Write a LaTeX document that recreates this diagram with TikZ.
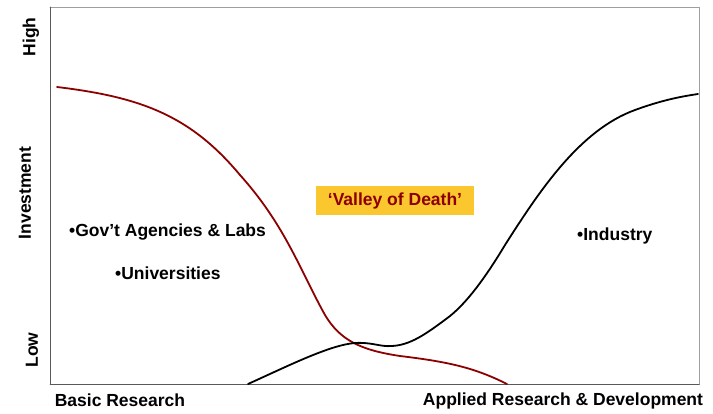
\documentclass[tikz,border=0pt]{standalone}
\usepackage{fontspec}
\setmainfont{Liberation Sans}
\definecolor{xdrqq}{rgb}{0.55,0.,0.}
\definecolor{ffcczz}{rgb}{0.98,0.78,0.18}
\definecolor{frdark}{rgb}{0.35,0.35,0.35}
\definecolor{frlight}{rgb}{0.62,0.62,0.62}
\tikzset{
  lbl/.style={font=\fontsize{17.5}{20}\selectfont\bfseries, inner sep=0pt},
  vlbl/.style={lbl, rotate=90}
}
\begin{document}
\begin{tikzpicture}[line cap=round,line join=round,x=1pt,y=-1pt]
	\useasboundingbox (0,0) rectangle (713,413);
	% frame
	\draw[frlight, line width=1pt] (50,384) -- (699,384) -- (699,7) -- (50,7);
	\draw[frdark, line width=1pt] (699,384) -- (50,384) -- (50,7);
	% curves
	\draw[xdrqq, line width=1.8pt] (57,87) .. controls (140,97) and (190,115) .. (240,175)
		.. controls (285,225) and (300,270) .. (325,315)
		.. controls (340,340) and (360,350) .. (400,356)
		.. controls (450,362) and (475,368) .. (507,384);
	\draw[black, line width=1.8pt] (248,384) .. controls (290,365) and (330,345) .. (355,343)
		.. controls (372,342) and (380,347) .. (392,346)
		.. controls (410,345) and (425,335) .. (450,316)
		.. controls (470,300) and (490,270) .. (505,245)
		.. controls (540,190) and (580,130) .. (635,110)
		.. controls (665,99) and (685,96) .. (698,94);
	% labels
	\node[vlbl] (high) at (31,37) {High};
	\node[vlbl] (invest) at (25,193) {Investment};
	\node[vlbl] (low) at (32,350) {Low};
	\node[lbl] (basic) at (120,400) {Basic Research};
	\node[lbl] (applied) at (563,401) {Applied Research \& Development};
	\node[lbl, fill=ffcczz, text=xdrqq, minimum width=158pt, minimum height=29pt] (valley) at (395,200.5) {‘Valley of Death’};
	\node[lbl, anchor=west] (gov) at (69,232) {•Gov’t Agencies \& Labs};
	\node[lbl, anchor=west] (univ) at (115,273) {•Universities};
	\node[lbl, anchor=west] (ind) at (577,236) {•Industry};
\end{tikzpicture}
\end{document}
